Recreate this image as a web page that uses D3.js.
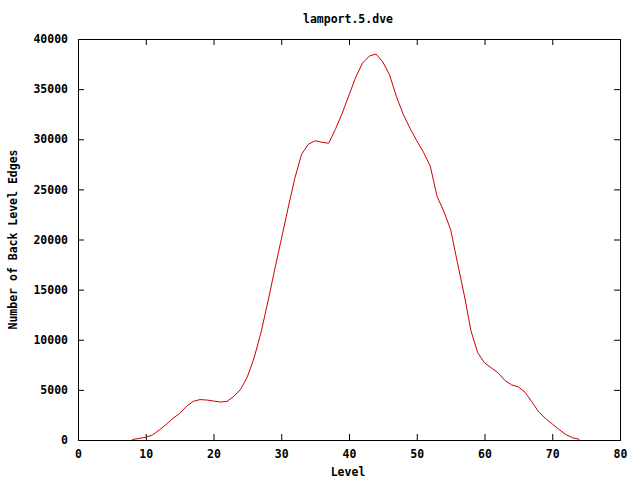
<!DOCTYPE html>
<html>
<head>
<meta charset="utf-8">
<script src="https://cdn.jsdelivr.net/npm/d3@7"></script>
<style>
  body { margin: 0; background: #fff; }
  text { font-family: "DejaVu Sans Mono", monospace; font-weight: bold; font-size: 11.5px; fill: #000; }
</style>
</head>
<body>
<svg id="chart" width="640" height="480"></svg>
<script>
// levels and number of back level edges per level
const levels = d3.range(8, 75);
const edges = [
  50, 150, 270, 500, 1000, 1550, 2150, 2650, 3350, 3850,
  4030, 3990, 3890, 3790, 3850, 4350, 5050, 6300, 8200, 10700,
  13700, 16900, 20000, 23100, 26100, 28500, 29500, 29850, 29700, 29600,
  31000, 32600, 34400, 36200, 37600, 38300, 38500, 37700, 36400, 34250,
  32500, 31100, 29850, 28700, 27300, 24300, 22800, 21000, 17700, 14500,
  10900, 8700, 7700, 7200, 6700, 5950, 5500, 5300, 4750, 3800,
  2800, 2150, 1600, 1050, 550, 220, 60
];
const xTicks = d3.range(0, 81, 10);
const yTicks = d3.range(0, 40001, 5000);

const data = levels.map((l, i) => ({ level: l, value: edges[i] }));

const margin = { top: 39, right: 20, bottom: 40, left: 78 };
const width = 640, height = 480;

const svg = d3.select("#chart");

const x = d3.scaleLinear().domain([0, 80]).range([margin.left, width - margin.right]);
const y = d3.scaleLinear().domain([0, 40000]).range([height - margin.bottom, margin.top]);

const tick = 6;

// axes (ticks inward, mirrored like gnuplot)
svg.append("g")
    .attr("transform", `translate(0,${y(0)})`)
    .call(d3.axisBottom(x).tickValues(xTicks).tickSize(-tick).tickPadding(10).tickFormat(d3.format("d")))
    .call(g => g.select(".domain").remove());

svg.append("g")
    .attr("transform", `translate(0,${y(40000)})`)
    .call(d3.axisTop(x).tickValues(xTicks).tickSize(-tick).tickFormat(""))
    .call(g => g.select(".domain").remove());

svg.append("g")
    .attr("transform", `translate(${x(0)},0)`)
    .call(d3.axisLeft(y).tickValues(yTicks).tickSize(-tick).tickPadding(10).tickFormat(d3.format("d")))
    .call(g => g.select(".domain").remove());

svg.append("g")
    .attr("transform", `translate(${x(80)},0)`)
    .call(d3.axisRight(y).tickValues(yTicks).tickSize(-tick).tickFormat(""))
    .call(g => g.select(".domain").remove());

svg.selectAll(".tick text")
    .attr("font-family", "DejaVu Sans Mono, monospace")
    .attr("font-weight", "bold")
    .attr("font-size", 11.5);

// border
svg.append("rect")
    .attr("x", x(0) + 0.5)
    .attr("y", y(40000) + 0.5)
    .attr("width", x(80) - x(0))
    .attr("height", y(0) - y(40000))
    .attr("fill", "none")
    .attr("stroke", "#000");

const line = d3.line()
    .x(d => x(d.level))
    .y(d => y(d.value));

svg.append("path")
    .datum(data)
    .attr("fill", "none")
    .attr("stroke", "#cc0000")
    .attr("stroke-width", 1)
    .attr("d", line);

svg.append("text")
    .attr("x", 348)
    .attr("y", 23)
    .attr("text-anchor", "middle")
    .text("lamport.5.dve");

svg.append("text")
    .attr("x", 348)
    .attr("y", 476)
    .attr("text-anchor", "middle")
    .text("Level");

svg.append("text")
    .attr("transform", `translate(17,${(y(0) + y(40000)) / 2}) rotate(-90)`)
    .attr("text-anchor", "middle")
    .text("Number of Back Level Edges");
</script>
</body>
</html>
